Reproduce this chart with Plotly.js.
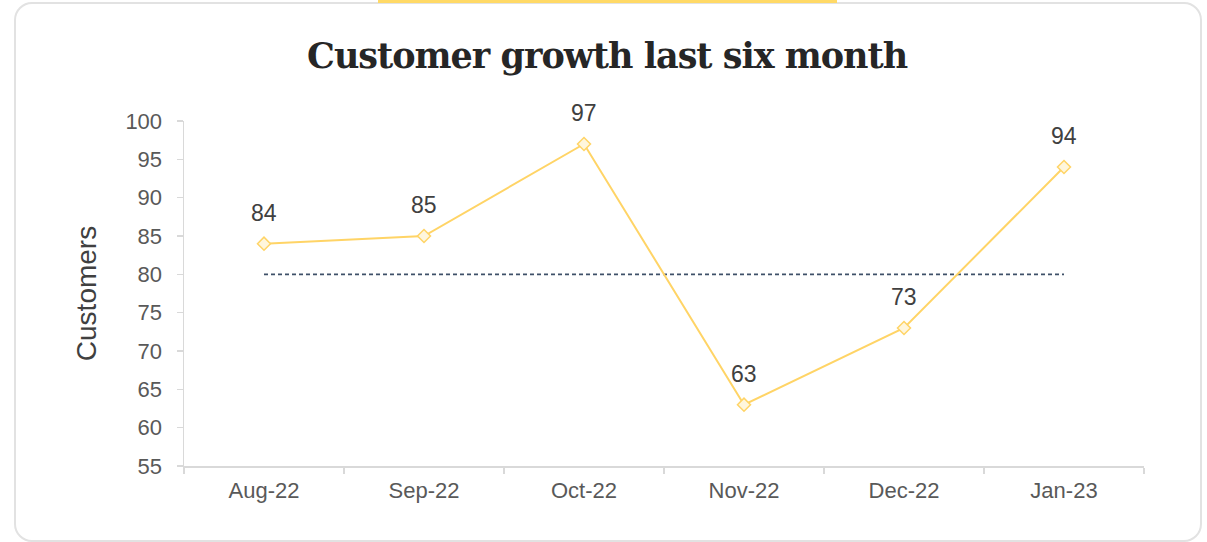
<!DOCTYPE html>
<html>
<head>
<meta charset="utf-8">
<script src="https://cdn.plot.ly/plotly-3.0.1.min.js"></script>
<style>
  html, body { margin: 0; padding: 0; background: #ffffff; }
  #wrap { position: relative; width: 1207px; height: 542px; overflow: hidden; }
  #card { position: absolute; left: 14px; top: 2px; width: 1184px; height: 536px;
          border: 2px solid #e2e2e2; border-radius: 18px; box-sizing: content-box; }
  #topbar { position: absolute; left: 378px; top: 0px; width: 459px; height: 3px; background: #FFD966; }
  #chart { position: absolute; left: 0; top: 0; width: 1207px; height: 542px; }
  #chart .gtitle { letter-spacing: -1px; }
</style>
</head>
<body>
<div id="wrap">
  <div id="card"></div>
  <div id="topbar"></div>
  <div id="chart"></div>
</div>
<script>
// Data
const months = ["Aug-22", "Sep-22", "Oct-22", "Nov-22", "Dec-22", "Jan-23"];
const customers = [84, 85, 97, 63, 73, 94];
const target = [80, 80, 80, 80, 80, 80];
const yTicks = [55, 60, 65, 70, 75, 80, 85, 90, 95, 100];

const lineColor = "#FFD466";
const textFont = "Liberation Sans, Arial, sans-serif";

const traces = [
  {
    x: months, y: target, type: "scatter", mode: "lines",
    line: { color: "#3E5068", width: 1.6, dash: "4px,3px" },
    hoverinfo: "skip", showlegend: false
  },
  {
    x: months, y: customers, type: "scatter", mode: "lines+markers",
    line: { color: lineColor, width: 2 },
    marker: { symbol: "diamond", size: 10, color: "#FFF6DC", line: { color: lineColor, width: 1.5 } },
    showlegend: false
  }
];

const annotations = months.map((m, i) => ({
  x: m, y: customers[i], xref: "x", yref: "y",
  text: String(customers[i]), showarrow: false,
  yshift: 31,
  font: { family: textFont, size: 23, color: "#404040" }
}));

const layout = {
  width: 1207, height: 542,
  paper_bgcolor: "rgba(0,0,0,0)", plot_bgcolor: "rgba(0,0,0,0)",
  margin: { l: 184, r: 63, t: 121, b: 76, pad: 0 },
  title: {
    text: "<b>Customer growth last six month</b>",
    x: 0.503, xanchor: "center", y: 0.897, yanchor: "middle", yref: "container",
    font: { family: "DejaVu Serif, serif", size: 35, color: "#262626" }
  },
  xaxis: {
    type: "category", range: [-0.5, 5.5],
    showline: true, linecolor: "#d9d9d9", linewidth: 1.5,
    ticks: "outside", tickson: "boundaries", ticklen: 6, tickcolor: "#d9d9d9", tickwidth: 1.5,
    ticklabelstandoff: 4,
    showgrid: false, zeroline: false,
    tickfont: { family: textFont, size: 22, color: "#595959" }
  },
  yaxis: {
    range: [55, 100], tickvals: yTicks, ticktext: yTicks.map(String),
    showline: true, linecolor: "#d9d9d9", linewidth: 1.5,
    ticks: "outside", ticklen: 6, tickcolor: "#d9d9d9", tickwidth: 1.5,
    ticklabelstandoff: 10,
    showgrid: false, zeroline: false,
    tickfont: { family: textFont, size: 22, color: "#595959" },
    title: { text: "Customers", standoff: 20, font: { family: textFont, size: 28, color: "#404040" } }
  },
  annotations: annotations,
  hovermode: false
};

Plotly.newPlot("chart", traces, layout, { displayModeBar: false, staticPlot: true });
</script>
</body>
</html>
